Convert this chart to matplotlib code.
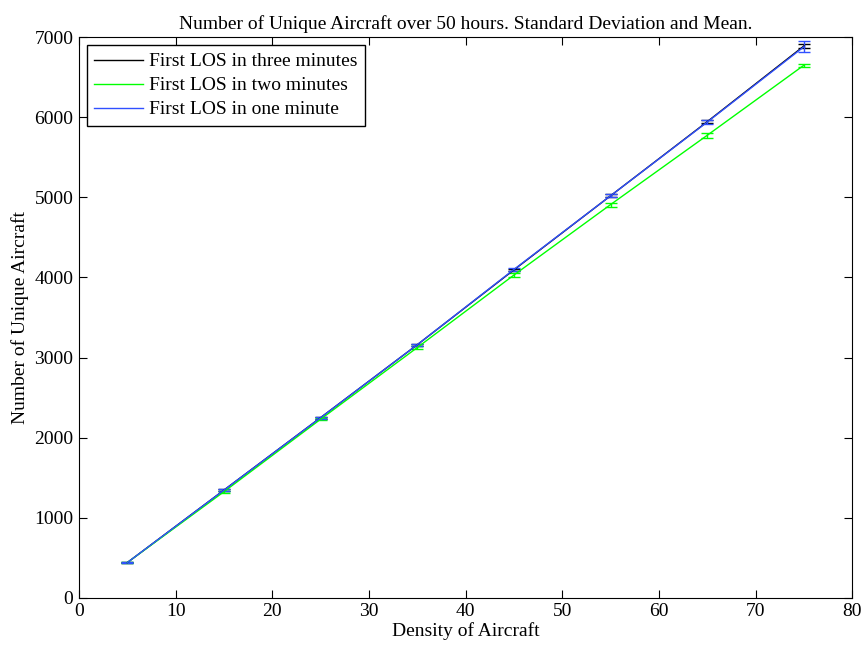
import numpy as np
import matplotlib
matplotlib.use("Agg")
import matplotlib.pyplot as plt

plt.rcParams["font.family"] = ["Liberation Serif", "DejaVu Serif"]
plt.rcParams["font.size"] = 14

density = [5, 15, 25, 35, 45, 55, 65, 75]

# mean and std of unique aircraft
three_mean = [440, 1345, 2250, 3160, 4095, 5020, 5945, 6890]
three_std = [5, 10, 12, 15, 15, 20, 20, 30]
two_mean = [440, 1325, 2230, 3125, 4030, 4910, 5775, 6650]
two_std = [5, 10, 12, 15, 20, 25, 30, 20]
one_mean = [440, 1345, 2250, 3160, 4100, 5020, 5940, 6880]
one_std = [5, 10, 12, 15, 15, 20, 25, 70]

fig = plt.figure(figsize=(8.67, 6.52), dpi=100)
ax = fig.add_axes([0.091, 0.083, 0.892, 0.86])

ax.errorbar(density, three_mean, yerr=three_std, color="black", lw=1,
            capsize=4, elinewidth=1, label="First LOS in three minutes")
ax.errorbar(density, two_mean, yerr=two_std, color="#00ff00", lw=1,
            capsize=4, elinewidth=1, label="First LOS in two minutes")
ax.errorbar(density, one_mean, yerr=one_std, color="#3050ff", lw=1,
            capsize=4, elinewidth=1, label="First LOS in one minute")

ax.set_xlim(0, 80)
ax.set_ylim(0, 7000)
ax.set_xticks(range(0, 81, 10))
ax.set_yticks(range(0, 7001, 1000))
ax.tick_params(direction="in", top=True, right=True, length=6, pad=4)
ax.set_xlabel("Density of Aircraft", labelpad=1)
ax.set_ylabel("Number of Unique Aircraft", labelpad=4)
ax.set_title("Number of Unique Aircraft over 50 hours. Standard Deviation and Mean.",
             fontsize=14, pad=6)

handles, labels = ax.get_legend_handles_labels()
handles = [h[0] for h in handles]
leg = ax.legend(handles, labels, loc="upper left", fancybox=False,
                edgecolor="black", framealpha=1, borderaxespad=0.4,
                handlelength=2.5, handletextpad=0.3, labelspacing=0.33,
                borderpad=0.4)
leg.get_frame().set_linewidth(1)

fig.savefig("out.png", dpi=100)
